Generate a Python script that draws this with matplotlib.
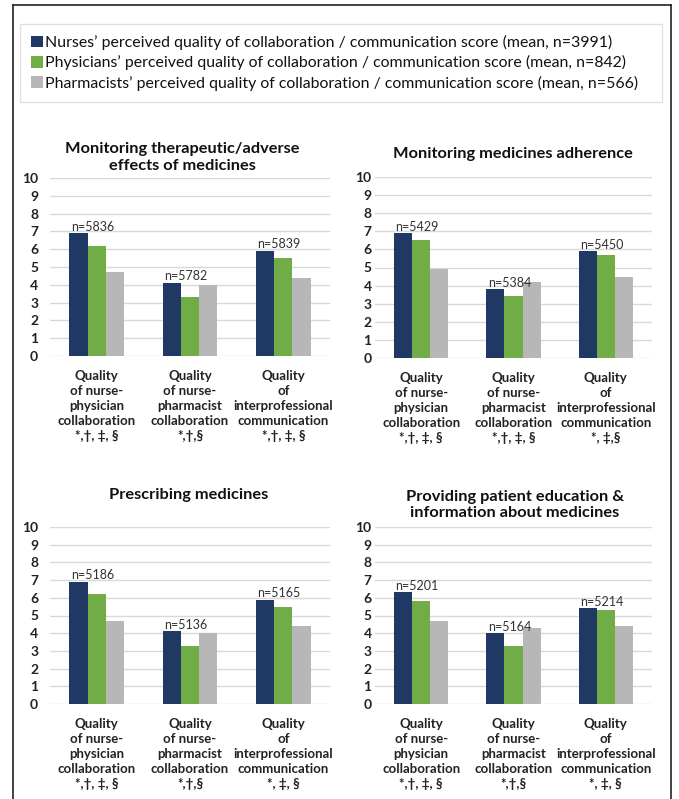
import matplotlib
matplotlib.use("Agg")
import matplotlib.pyplot as plt
from matplotlib.lines import Line2D
import numpy as np

plt.rcParams['font.family'] = ['Lato', 'DejaVu Sans']

series_names = [
    "Nurses\u2019 perceived quality of collaboration / communication score (mean, n=3991)",
    "Physicians\u2019 perceived quality of collaboration / communication score (mean, n=842)",
    "Pharmacists\u2019 perceived quality of collaboration / communication score (mean, n=566)",
]
colors = ["#203864", "#70AD47", "#B7B7B7"]

titles = [
    "Monitoring therapeutic/adverse\neffects of medicines",
    "Monitoring medicines adherence",
    "Prescribing medicines",
    "Providing patient education &\ninformation about medicines",
]

cat_base = ["Quality\nof nurse-\nphysician\ncollaboration",
            "Quality\nof nurse-\npharmacist\ncollaboration",
            "Quality\nof\ninterprofessional\ncommunication"]

markers_tl = ["*,\u2020, \u2021, \u00a7", "*,\u2020,\u00a7", "*,\u2020, \u2021, \u00a7"]
markers_tr = ["*,\u2020, \u2021, \u00a7", "*,\u2020, \u2021, \u00a7", "*, \u2021,\u00a7"]
markers_bl = ["*,\u2020, \u2021, \u00a7", "*,\u2020,\u00a7", "*, \u2021, \u00a7"]
markers_br = ["*,\u2020, \u2021, \u00a7", "*,\u2020,\u00a7", "*, \u2021, \u00a7"]

# values per panel: [nurses, physicians, pharmacists] for each of 3 categories
nurses_tl = [6.9, 4.1, 5.9]
physicians_tl = [6.2, 3.3, 5.5]
pharmacists_tl = [4.7, 4.0, 4.4]
n_tl = ["n=5836", "n=5782", "n=5839"]

nurses_tr = [6.9, 3.8, 5.9]
physicians_tr = [6.5, 3.4, 5.7]
pharmacists_tr = [4.9, 4.2, 4.5]
n_tr = ["n=5429", "n=5384", "n=5450"]

nurses_bl = [6.9, 4.1, 5.9]
physicians_bl = [6.2, 3.3, 5.5]
pharmacists_bl = [4.7, 4.0, 4.4]
n_bl = ["n=5186", "n=5136", "n=5165"]

nurses_br = [6.3, 4.0, 5.4]
physicians_br = [5.8, 3.3, 5.3]
pharmacists_br = [4.7, 4.3, 4.4]
n_br = ["n=5201", "n=5164", "n=5214"]

W, H = 679, 799
fig = plt.figure(figsize=(W / 100, H / 100), dpi=100)

def fx(px):
    return px / W

def fy(py):
    return 1 - py / H

# panel geometry in pixels: (left, right, top(y=10), bottom(y=0))
panels = [
    dict(box=(50, 330, 178, 356), title=titles[0], title_xy=(182, 157.5),
         vals=(nurses_tl, physicians_tl, pharmacists_tl), n=n_tl, marks=markers_tl, ypad=8.5),
    dict(box=(375, 652, 177, 358), title=titles[1], title_xy=(513, 154),
         vals=(nurses_tr, physicians_tr, pharmacists_tr), n=n_tr, marks=markers_tr, ypad=2.5),
    dict(box=(50, 330, 527, 704), title=titles[2], title_xy=(189, 495),
         vals=(nurses_bl, physicians_bl, pharmacists_bl), n=n_bl, marks=markers_bl, ypad=8.5),
    dict(box=(375, 652, 527, 704), title=titles[3], title_xy=(515, 505),
         vals=(nurses_br, physicians_br, pharmacists_br), n=n_br, marks=markers_br, ypad=2.5),
]

bw = 0.195
handles = None
for p in panels:
    l, r, t, b = p["box"]
    ax = fig.add_axes([fx(l), fy(b), fx(r - l), (b - t) / H])
    x = np.arange(3)
    bars = []
    for i, (vals, c) in enumerate(zip(p["vals"], colors)):
        bars.append(ax.bar(x + (i - 1) * bw, vals, width=bw, color=c, zorder=3))
    handles = bars
    for j in range(3):
        ax.text(x[j] - 1.5 * bw + 0.015, p["vals"][0][j] + 0.03, p["n"][j],
                ha="left", va="bottom", fontsize=9, color="#333333", zorder=4)
    ax.set_xlim(-0.5, 2.5)
    ax.set_ylim(0, 10)
    ax.set_yticks(range(0, 11))
    ax.yaxis.grid(True, color="#D9D9D9", linewidth=1.0, zorder=0)
    ax.set_axisbelow(True)
    for s in ax.spines.values():
        s.set_visible(False)
    ax.tick_params(axis="both", length=0)
    ax.tick_params(axis="y", pad=p["ypad"], labelsize=10)
    for lab in ax.get_yticklabels():
        lab.set_fontweight("bold")
        lab.set_color("#222222")
    ax.set_xticks(x)
    ax.set_xticklabels([c + "\n" + m for c, m in zip(cat_base, p["marks"])],
                       fontsize=9.5, fontweight="bold", linespacing=1.3, color="#222222")
    ax.tick_params(axis="x", pad=10)
    fig.text(fx(p["title_xy"][0]), fy(p["title_xy"][1]), p["title"], ha="center", va="center",
             fontsize=11.8, fontweight="bold", color="#111111", linespacing=1.2)

leg = fig.legend([h[0] for h in handles], series_names, loc="upper left",
                 bbox_to_anchor=(fx(20), fy(100), fx(662 - 20), 76 / H), mode="expand",
                 fontsize=11.4, frameon=True, fancybox=False, edgecolor="#D9D9D9",
                 handlelength=0.75, handleheight=0.75, handletextpad=0.15,
                 labelspacing=0.33, borderpad=0.7, borderaxespad=0)
leg.get_frame().set_linewidth(1.0)
for txt in leg.get_texts():
    txt.set_color("#111111")

# outer border (left, top, right)
kw = dict(color="#222222", linewidth=1.2, transform=fig.transFigure)
fig.add_artist(Line2D([fx(13), fx(13)], [fy(5), 0], **kw))
fig.add_artist(Line2D([fx(13), fx(671)], [fy(5), fy(5)], **kw))
fig.add_artist(Line2D([fx(671), fx(671)], [fy(5), 0], **kw))

fig.savefig("out.png", dpi=100)
